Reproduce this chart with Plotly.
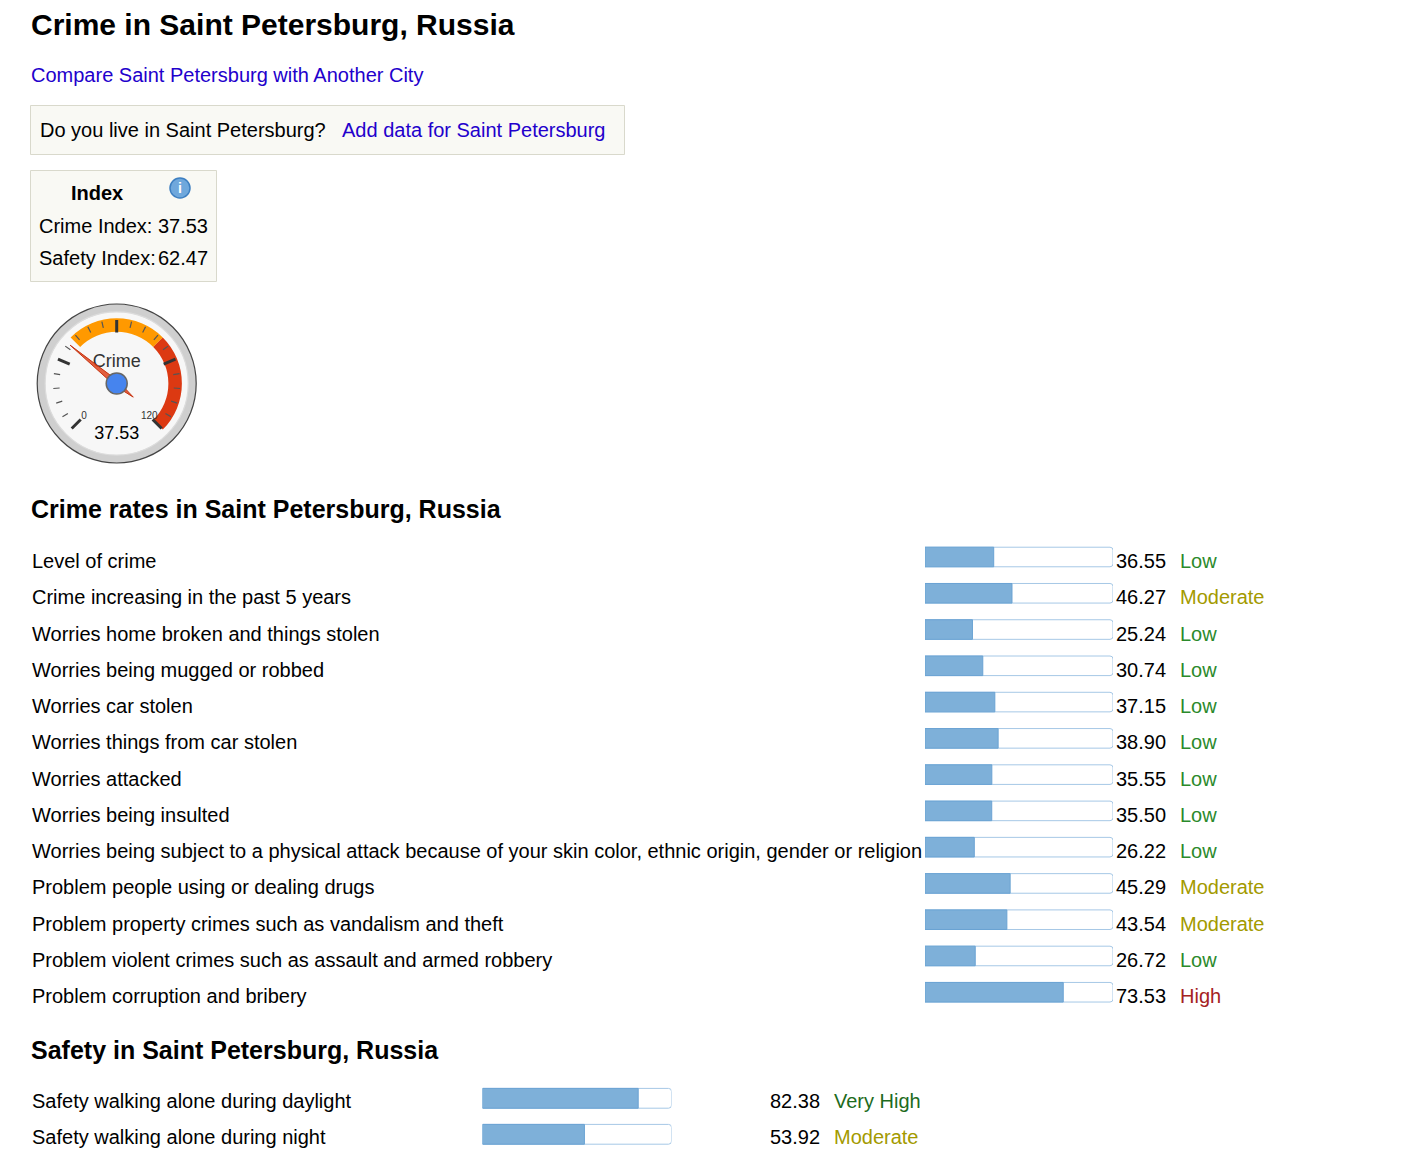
import plotly.graph_objects as go

# data
city = "Saint Petersburg"
crime_index = 37.53
safety_index = 62.47

crime_labels = [
    "Level of crime",
    "Crime increasing in the past 5 years",
    "Worries home broken and things stolen",
    "Worries being mugged or robbed",
    "Worries car stolen",
    "Worries things from car stolen",
    "Worries attacked",
    "Worries being insulted",
    "Worries being subject to a physical attack because of your skin color, ethnic origin, gender or religion",
    "Problem people using or dealing drugs",
    "Problem property crimes such as vandalism and theft",
    "Problem violent crimes such as assault and armed robbery",
    "Problem corruption and bribery",
]
crime_values = [36.55, 46.27, 25.24, 30.74, 37.15, 38.90, 35.55, 35.50, 26.22, 45.29, 43.54, 26.72, 73.53]
crime_levels = ["Low", "Moderate", "Low", "Low", "Low", "Low", "Low", "Low", "Low",
                "Moderate", "Moderate", "Low", "High"]

safety_labels = ["Safety walking alone during daylight", "Safety walking alone during night"]
safety_values = [82.38, 53.92]
safety_levels = ["Very High", "Moderate"]

# gauge settings
gauge_min, gauge_max = 0, 120
gauge_bands = [(40, 80, "#ff9900"), (80, 120, "#dc3912")]
major_ticks = [0, 30, 60, 90, 120]
minor_ticks = [v for v in range(0, 121, 6) if v not in major_ticks]

level_colors = {"Low": "#2b8a2b", "Moderate": "#a39a00", "High": "#a52222", "Very High": "#1d6b1d"}

W, H = 1410, 1156
FONT = "Liberation Sans, Arial, sans-serif"


def px(x):
    return (x - 8) / W


def py(y):
    return 1 - (y - 8) / H


def ang(v):
    return -135 + (v - gauge_min) / (gauge_max - gauge_min) * 270


fig = go.Figure()

# crime bars
n = len(crime_values)
fig.add_trace(go.Bar(x=[100] * n, y=list(range(n)), orientation="h", width=0.54,
                     marker=dict(color="white", line=dict(color="#a6c8e6", width=1), cornerradius=3),
                     xaxis="x2", yaxis="y2", hoverinfo="skip"))
fig.add_trace(go.Bar(x=crime_values, y=list(range(n)), orientation="h", width=0.54,
                     marker=dict(color="#7eb0d9", line=dict(color="#6aa3d3", width=1), cornerradius=3),
                     xaxis="x2", yaxis="y2"))

# safety bars
m = len(safety_values)
fig.add_trace(go.Bar(x=[100] * m, y=list(range(m)), orientation="h", width=0.55,
                     marker=dict(color="white", line=dict(color="#a6c8e6", width=1), cornerradius=3),
                     xaxis="x3", yaxis="y3", hoverinfo="skip"))
fig.add_trace(go.Bar(x=safety_values, y=list(range(m)), orientation="h", width=0.55,
                     marker=dict(color="#7eb0d9", line=dict(color="#6aa3d3", width=1), cornerradius=3),
                     xaxis="x3", yaxis="y3"))

# info icon
fig.add_trace(go.Scatter(x=[180], y=[188], mode="markers",
                         marker=dict(size=20, color="#6fa8dc", line=dict(color="#3d7fc1", width=1.5)),
                         hoverinfo="skip"))

# gauge bands
for lo, hi, col in gauge_bands:
    fig.add_trace(go.Barpolar(r=[0.17], base=[0.65], theta=[(ang(lo) + ang(hi)) / 2],
                              width=[ang(hi) - ang(lo)], marker=dict(color=col, line=dict(width=0)),
                              subplot="polar", hoverinfo="skip"))

# gauge ticks
def tick_trace(vals, r0, r1, w, col):
    rr, tt = [], []
    for v in vals:
        rr += [r0, r1, None]
        tt += [ang(v), ang(v), None]
    return go.Scatterpolar(r=rr, theta=tt, mode="lines", line=dict(color=col, width=w),
                           subplot="polar", hoverinfo="skip")


fig.add_trace(tick_trace(minor_ticks, 0.72, 0.80, 1.2, "#555"))
fig.add_trace(tick_trace(major_ticks, 0.64, 0.80, 3, "#333"))

# gauge texts
fig.add_trace(go.Scatterpolar(r=[0.58, 0.58], theta=[ang(gauge_min), ang(gauge_max)], mode="text",
                              text=[str(gauge_min), str(gauge_max)],
                              textfont=dict(size=10, color="#333", family=FONT),
                              subplot="polar", hoverinfo="skip"))
fig.add_trace(go.Scatterpolar(r=[0.26, 0.645], theta=[0, 180], mode="text",
                              text=["Crime", f"{crime_index:.2f}"],
                              textfont=dict(size=18, color=["#333", "#000"], family=FONT),
                              subplot="polar", hoverinfo="skip"))

# needle
a = ang(crime_index)
fig.add_trace(go.Scatterpolar(r=[0.76, 0.035, 0.27, 0.035, 0.76], theta=[a, a + 90, a + 180, a - 90, a],
                              mode="lines", fill="toself", fillcolor="rgba(220,57,18,0.8)",
                              line=dict(color="#c63310", width=1), subplot="polar", hoverinfo="skip"))
fig.add_trace(go.Scatterpolar(r=[0], theta=[0], mode="markers",
                              marker=dict(size=21, color="#4684ee", line=dict(color="#666", width=1.5)),
                              subplot="polar", hoverinfo="skip"))

# annotations (annotation boxes pad the text by ~2px, so left edges are given 2px earlier)
ann = []


def txt(x, y, s, size=20, color="#000", bold=False, anchor="left", **kw):
    shift = {"left": -2, "right": 2, "center": 0}[anchor]
    ann.append(dict(x=x + shift, y=y, text=f"<b>{s}</b>" if bold else s, showarrow=False,
                    xanchor=anchor, yanchor="middle",
                    font=dict(size=size, color=color, family=FONT), **kw))


txt(31, 24, f"Crime in {city}, Russia", size=30, bold=True)
txt(31, 75, f"Compare {city} with Another City", color="#2200cc")
txt(40, 130, f"Do you live in {city}?")
txt(342, 130, f"Add data for {city}", color="#2200cc")
txt(97, 193, "Index", bold=True, anchor="center")
txt(180, 188, "i", size=14, color="white", bold=True, anchor="center")
txt(39, 226, f"Crime Index: {crime_index:.2f}")
txt(39, 258, "Safety Index:")
txt(158, 258, f"{safety_index:.2f}")
txt(31, 509, f"Crime rates in {city}, Russia", size=25, bold=True)
txt(31, 1050, f"Safety in {city}, Russia", size=25, bold=True)

for i, (lab, v, lev) in enumerate(zip(crime_labels, crime_values, crime_levels)):
    txt(32, i, lab, yref="y2", yshift=-4)
    txt(1116, i, f"{v:.2f}", yref="y2", yshift=-4)
    txt(1180, i, lev, color=level_colors[lev], yref="y2", yshift=-4)

for i, (lab, v, lev) in enumerate(zip(safety_labels, safety_values, safety_levels)):
    txt(32, i, lab, yref="y3", yshift=-3)
    txt(820, i, f"{v:.2f}", anchor="right", yref="y3", yshift=-3)
    txt(834, i, lev, color=level_colors[lev], yref="y3", yshift=-3)

# shapes: boxes and gauge face
shapes = [
    dict(type="rect", xref="x", yref="y", x0=30.5, x1=624.5, y0=105.5, y1=154.5,
         fillcolor="#f9f9f4", line=dict(color="#d9d9cc", width=1), layer="below"),
    dict(type="rect", xref="x", yref="y", x0=30.5, x1=216.5, y0=170.5, y1=281.5,
         fillcolor="#f9f9f4", line=dict(color="#d9d9cc", width=1), layer="below"),
]
gx, gy, gr = 116.7, 383.5, 79.5
for r, fill, lc in [(1.0, "#cfcfcf", "#444"), (0.9, "#f7f7f7", "#dcdcdc")]:
    shapes.append(dict(type="circle", xref="x", yref="y", x0=gx - gr * r, x1=gx + gr * r,
                       y0=gy - gr * r, y1=gy + gr * r, fillcolor=fill,
                       line=dict(color=lc, width=1.2), layer="below"))

ax_off = dict(visible=False, showgrid=False, zeroline=False, fixedrange=True)

fig.update_layout(
    width=W, height=H, margin=dict(l=0, r=0, t=0, b=0),
    paper_bgcolor="white", plot_bgcolor="rgba(0,0,0,0)",
    showlegend=False, barmode="overlay",
    xaxis=dict(range=[8, 8 + W], domain=[0, 1], **ax_off),
    yaxis=dict(range=[8 + H, 8], domain=[0, 1], **ax_off),
    xaxis2=dict(range=[0, 100], domain=[px(925), px(1113)], anchor="y2", **ax_off),
    yaxis2=dict(range=[n - 0.5, -0.5], domain=[py(557 + 36.27 * (n - 0.5)), py(557 - 36.27 * 0.5)],
                anchor="x2", **ax_off),
    xaxis3=dict(range=[0, 100], domain=[px(482.5), px(671.5)], anchor="y3", **ax_off),
    yaxis3=dict(range=[m - 0.5, -0.5], domain=[py(1098.3 + 36 * (m - 0.5)), py(1098.3 - 36 * 0.5)],
                anchor="x3", **ax_off),
    polar=dict(domain=dict(x=[px(gx - gr), px(gx + gr)], y=[py(gy + gr), py(gy - gr)]),
               bgcolor="rgba(0,0,0,0)", barmode="overlay",
               angularaxis=dict(rotation=90, direction="clockwise", visible=False, showgrid=False),
               radialaxis=dict(range=[0, 1], visible=False, showgrid=False)),
    annotations=ann, shapes=shapes,
)

fig.write_html("out.html")
